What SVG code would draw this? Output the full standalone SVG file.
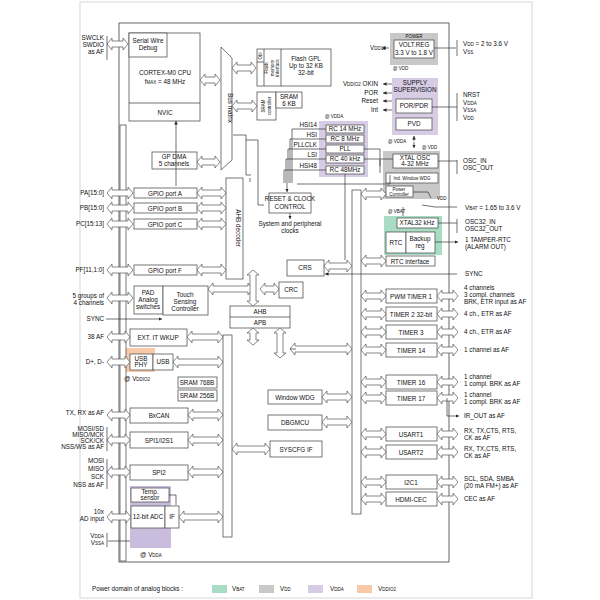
<svg xmlns="http://www.w3.org/2000/svg" width="600" height="600" viewBox="0 0 600 600">
<style>
text{font-family:"Liberation Sans",Arial,sans-serif;font-size:6.3px;fill:#111}
.c{text-anchor:middle}.r{text-anchor:end}
.b{fill:#fff;stroke:#555;stroke-width:0.8}
.a{fill:#fff;stroke:#555;stroke-width:0.7}
.l{fill:none;stroke:#333;stroke-width:0.7}
.s{font-size:4.5px}
</style>
<defs><marker id="m" viewBox="0 0 6 6" refX="6" refY="3" markerWidth="5" markerHeight="5" orient="auto"><path d="M0,0L6,3L0,6Z" fill="#222"/></marker></defs>
<rect x="80" y="2" width="452" height="596" fill="none" stroke="#ccc" stroke-width="0.8"/>
<rect x="119" y="23" width="330" height="539" fill="none" stroke="#555" stroke-width="0.9"/>
<g id="domains">
<rect x="319" y="121" width="49" height="56" fill="#d6cce4"/>
<rect x="390" y="33" width="48" height="32" fill="#c8c8c8"/>
<rect x="392" y="78" width="46" height="57" fill="#d6cce4"/>
<rect x="383" y="151" width="57" height="48" fill="#c8c8c8"/>
<rect x="384" y="216" width="58" height="39" fill="#a8dcc4"/>
<rect x="125" y="348" width="30" height="24" fill="#f7c9a8"/>
<rect x="130" y="486" width="41" height="62" fill="#c9bcdc"/>
</g>
<g id="buses">
<rect x="120" y="125" width="6" height="436" class="b"/>
<polygon points="221,47 232,58 232,160 221,170" class="b"/>
<text transform="translate(228,108) rotate(90)" class="c">Bus matrix</text>
<rect x="226" y="178" width="17" height="101" class="b"/>
<text transform="translate(236,228) rotate(90)" class="c">AHB decoder</text>
<rect x="223" y="335" width="9" height="202" class="b"/>
<rect x="352" y="190" width="9" height="324" class="b"/>
</g>
<g id="cpu"><rect x="129" y="33" width="71" height="88" class="b"/><rect x="129" y="33" width="38" height="24" class="b"/>
<text x="148" y="43" class="c">Serial Wire</text><text x="148" y="50" class="c">Debug</text>
<text x="165" y="75" class="c">CORTEX-M0 CPU</text><text x="165" y="84" class="c">f<tspan class="s">MAX</tspan> = 48 MHz</text>
<line x1="129" y1="103" x2="200" y2="103" class="l"/><text x="165" y="115" class="c">NVIC</text></g>
<g id="flash"><rect x="257" y="49" width="74" height="37" class="b"/><line x1="264" y1="49" x2="264" y2="86" class="l"/><line x1="281" y1="49" x2="281" y2="86" class="l"/><line x1="257" y1="62" x2="264" y2="62" class="l"/>
<text transform="translate(262,56) rotate(-90)" class="c s">Obl</text>
<text transform="translate(268,68) rotate(-90)" class="c s">Flash</text><text transform="translate(274,68) rotate(-90)" class="c s">memory</text><text transform="translate(279,68) rotate(-90)" class="c s">interface</text>
<text x="306" y="61" class="c">Flash GPL</text><text x="306" y="68" class="c">Up to 32 KB</text><text x="306" y="75" class="c">32-bit</text></g>
<g id="sram"><rect x="257" y="92" width="19" height="28" class="b"/><rect x="276" y="92" width="26" height="16" class="b"/>
<text transform="translate(265,106) rotate(-90)" class="c s">SRAM</text><text transform="translate(271,106) rotate(-90)" class="c s">controller</text>
<text x="289" y="99" class="c">SRAM</text><text x="289" y="106" class="c">6 KB</text></g>
<g id="dma"><rect x="152" y="152" width="45" height="17" class="b"/><text x="174" y="159" class="c">GP DMA</text><text x="174" y="166" class="c">5 channels</text></g>
<g id="gpio">
<rect x="134" y="188" width="63" height="10" class="b"/><text x="165" y="195.5" class="c">GPIO port A</text>
<rect x="134" y="203" width="63" height="10" class="b"/><text x="165" y="210.5" class="c">GPIO port B</text>
<rect x="134" y="219" width="63" height="10" class="b"/><text x="165" y="226.5" class="c">GPIO port C</text>
<rect x="134" y="265" width="63" height="10" class="b"/><text x="165" y="272.5" class="c">GPIO port F</text>
<text x="104" y="195" class="r">PA[15:0]</text><text x="104" y="210" class="r">PB[15:0]</text><text x="104" y="226" class="r">PC[15:13]</text><text x="104" y="272" class="r">PF[11,1:0]</text>
</g>
<g id="tsc"><rect x="134" y="286" width="29" height="28" class="b"/><rect x="163" y="286" width="45" height="29" class="b"/>
<text x="148" y="295" class="c">PAD</text><text x="148" y="302" class="c">Analog</text><text x="148" y="309" class="c">switches</text>
<text x="185" y="297" class="c">Touch</text><text x="185" y="304" class="c">Sensing</text><text x="185" y="311" class="c">Controller</text>
<text x="104" y="298" class="r">5 groups of</text><text x="104" y="305" class="r">4 channels</text><text x="104" y="321" class="r">SYNC</text></g>
<g id="ahb"><rect x="230" y="306" width="60" height="22" class="b"/><line x1="230" y1="317" x2="290" y2="317" class="l"/><text x="260" y="314" class="c">AHB</text><text x="260" y="325" class="c">APB</text></g>
<g id="crc"><rect x="279" y="282" width="24" height="16" class="b"/><text x="291" y="292" class="c">CRC</text></g>
<g id="crs"><rect x="287" y="260" width="37" height="16" class="b"/><text x="305" y="270" class="c">CRS</text></g>
<g id="rcc"><rect x="269" y="193" width="42" height="20" class="b"/><text x="290" y="201" class="c">RESET &amp; CLOCK</text><text x="290" y="209" class="c">CONTROL</text>
<text x="290" y="226" class="c">System and peripheral</text><text x="290" y="233" class="c">clocks</text></g>
<g id="clocks"><text x="325" y="118" class="s">@ V<tspan class="s">DDA</tspan></text>
<rect x="326" y="125" width="38" height="8" class="b"/><text x="345" y="131" class="c">RC 14 MHz</text>
<rect x="326" y="135" width="38" height="8" class="b"/><text x="345" y="141" class="c">RC 8 MHz</text>
<rect x="326" y="145" width="38" height="8" class="b"/><text x="345" y="151" class="c">PLL</text>
<rect x="326" y="155" width="38" height="8" class="b"/><text x="345" y="161" class="c">RC 40 kHz</text>
<rect x="326" y="166" width="38" height="8" class="b"/><text x="345" y="172" class="c">RC 48MHz</text>
<text x="317" y="127" class="r">HSI14</text><text x="317" y="137" class="r">HSI</text><text x="317" y="147" class="r">PLLCLK</text><text x="317" y="157" class="r">LSI</text><text x="317" y="168" class="r">HSI48</text></g>
<g id="power"><rect x="394" y="40" width="40" height="18" class="b"/><text x="414" y="38" class="c s">POWER</text><text x="414" y="47" class="c">VOLT.REG</text><text x="414" y="55" class="c">3.3 V to 1.8 V</text>
<text x="370" y="50">V<tspan class="s">DD18</tspan></text><text x="393" y="70" class="s">@ V<tspan class="s">DD</tspan></text>
<text x="463" y="46">V<tspan class="s">DD</tspan> = 2 to 3.6 V</text><text x="463" y="54">V<tspan class="s">SS</tspan></text></g>
<g id="supervision"><text x="415" y="85" class="c">SUPPLY</text><text x="415" y="92" class="c">SUPERVISION</text>
<rect x="396" y="99" width="36" height="14" class="b"/><text x="414" y="108" class="c">POR/PDR</text>
<rect x="396" y="118" width="36" height="12" class="b"/><text x="414" y="126" class="c">PVD</text>
<text x="378" y="86" class="r">V<tspan class="s">DDIO2</tspan> OKIN</text><text x="378" y="95" class="r">POR</text><text x="378" y="103" class="r">Reset</text><text x="378" y="112" class="r">Int</text>
<text x="463" y="97">NRST</text><text x="463" y="105">V<tspan class="s">DDA</tspan></text><text x="463" y="112">V<tspan class="s">SSA</tspan></text><text x="463" y="120">V<tspan class="s">DD</tspan></text>
<text x="388" y="143" class="s">@ V<tspan class="s">DDA</tspan></text><text x="422" y="149" class="s">@ V<tspan class="s">DD</tspan></text></g>
<g id="osc"><rect x="393" y="154" width="45" height="14" class="b"/><text x="415" y="160" class="c">XTAL OSC</text><text x="415" y="166" class="c">4-32 MHz</text>
<rect x="386" y="173" width="52" height="10" class="b"/><text x="412" y="180" class="c s">Ind. Window WDG</text>
<rect x="386" y="186" width="27" height="11" class="b"/><text x="399" y="190.5" class="c s">Power</text><text x="399" y="195.5" class="c s">Controller</text>
<text x="463" y="163">OSC_IN</text><text x="463" y="170">OSC_OUT</text>
<text x="437" y="200" class="s">V<tspan class="s">DD</tspan></text><text x="465" y="210">V<tspan class="s">BAT</tspan> = 1.65 to 3.6 V</text></g>
<g id="rtc"><text x="388" y="213" class="s">@ V<tspan class="s">BAT</tspan></text>
<rect x="397" y="218" width="41" height="10" class="b"/><text x="417" y="225" class="c">XTAL32 kHz</text>
<rect x="386" y="232" width="20" height="21" class="b"/><text x="396" y="245" class="c">RTC</text>
<rect x="406" y="232" width="29" height="21" class="b"/><text x="420" y="241" class="c">Backup</text><text x="420" y="248" class="c">reg</text>
<rect x="386" y="256" width="49" height="10" class="b"/><text x="410" y="263.5" class="c">RTC interface</text>
<text x="465" y="224">OSC32_IN</text><text x="465" y="231">OSC32_OUT</text><text x="465" y="242">1 TAMPER-RTC</text><text x="465" y="249">(ALARM OUT)</text><text x="465" y="276">SYNC</text></g>
<g id="timers">
<rect x="386" y="289" width="51" height="14" class="b"/><text x="411" y="298.5" class="c">PWM TIMER 1</text>
<rect x="386" y="307" width="51" height="14" class="b"/><text x="411" y="316.5" class="c">TIMER 2 32-bit</text>
<rect x="386" y="325" width="51" height="14" class="b"/><text x="411" y="334.5" class="c">TIMER 3</text>
<rect x="386" y="343" width="51" height="14" class="b"/><text x="411" y="352.5" class="c">TIMER 14</text>
<rect x="386" y="375" width="51" height="14" class="b"/><text x="411" y="384.5" class="c">TIMER 16</text>
<rect x="386" y="391" width="51" height="14" class="b"/><text x="411" y="400.5" class="c">TIMER 17</text>
<text x="464" y="290">4 channels</text><text x="464" y="297">3 compl. channels</text><text x="464" y="304">BRK, ETR input as AF</text>
<text x="464" y="316">4 ch., ETR as AF</text><text x="464" y="334">4 ch., ETR as AF</text><text x="464" y="352">1 channel as AF</text>
<text x="464" y="379">1 channel</text><text x="464" y="386">1 compl. BRK as AF</text>
<text x="464" y="397">1 channel</text><text x="464" y="404">1 compl. BRK as AF</text><text x="464" y="418">IR_OUT as AF</text></g>
<g id="comms">
<rect x="386" y="427" width="51" height="14" class="b"/><text x="411" y="436.5" class="c">USART1</text>
<rect x="386" y="445" width="51" height="14" class="b"/><text x="411" y="454.5" class="c">USART2</text>
<rect x="386" y="475" width="51" height="14" class="b"/><text x="411" y="484.5" class="c">I2C1</text>
<rect x="386" y="492" width="51" height="14" class="b"/><text x="411" y="501.5" class="c">HDMI-CEC</text>
<text x="464" y="433">RX, TX,CTS, RTS,</text><text x="464" y="440">CK as AF</text>
<text x="464" y="451">RX, TX,CTS, RTS,</text><text x="464" y="458">CK as AF</text>
<text x="464" y="481">SCL, SDA, SMBA</text><text x="464" y="488">(20 mA FM+) as AF</text><text x="464" y="501">CEC as AF</text></g>
<g id="sys">
<rect x="268" y="390" width="54" height="14" class="b"/><text x="295" y="399.5" class="c">Window WDG</text>
<rect x="268" y="415" width="54" height="15" class="b"/><text x="295" y="425" class="c">DBGMCU</text>
<rect x="270" y="441" width="52" height="16" class="b"/><text x="296" y="451.5" class="c">SYSCFG IF</text></g>
<g id="leftperiph">
<rect x="130" y="329" width="57" height="17" class="b"/><text x="158" y="340" class="c">EXT. IT  WKUP</text><text x="104" y="339" class="r">38 AF</text>
<rect x="130" y="354" width="23" height="16" class="b"/><rect x="153" y="354" width="20" height="16" class="b"/>
<text x="141" y="360.5" class="c">USB</text><text x="141" y="367" class="c">PHY</text><text x="163" y="364" class="c">USB</text>
<text x="104" y="364" class="r">D+, D-</text><text x="124" y="381">@ V<tspan class="s">DDIO2</tspan></text>
<rect x="178" y="377" width="39" height="11" class="b"/><text x="197" y="385" class="c">SRAM 768B</text>
<rect x="178" y="390" width="39" height="11" class="b"/><text x="197" y="398" class="c">SRAM 256B</text>
<rect x="130" y="408" width="58" height="15" class="b"/><text x="159" y="418" class="c">BxCAN</text>
<rect x="130" y="432" width="58" height="16" class="b"/><text x="159" y="442.5" class="c">SPI1/I2S1</text>
<rect x="130" y="465" width="58" height="15" class="b"/><text x="159" y="475" class="c">SPI2</text>
<text x="104" y="415" class="r">TX, RX as AF</text>
<text x="104" y="431" class="r">MOSI/SD</text><text x="104" y="437" class="r">MISO/MCK</text><text x="104" y="443" class="r">SCK/CK</text><text x="104" y="449" class="r">NSS/WS as AF</text>
<text x="104" y="463" class="r">MOSI</text><text x="104" y="471" class="r">MISO</text><text x="104" y="479" class="r">SCK</text><text x="104" y="487" class="r">NSS as AF</text></g>
<g id="adc">
<rect x="131" y="488" width="38" height="14" class="b"/><text x="150" y="494" class="c">Temp.</text><text x="150" y="500" class="c">sensor</text>
<rect x="131" y="506" width="34" height="22" class="b"/><rect x="165" y="506" width="14" height="22" class="b"/>
<text x="148" y="519" class="c">12-bit ADC</text><text x="172" y="519" class="c">IF</text>
<text x="104" y="514" class="r">10x</text><text x="104" y="521" class="r">AD input</text>
<text x="104" y="538" class="r">V<tspan class="s">DDA</tspan></text><text x="104" y="545" class="r">V<tspan class="s">SSA</tspan></text>
<text x="140" y="557">@ V<tspan class="s">DDA</tspan></text></g>
<g id="connectors">
<path class="a" d="M107 44l5-6v3h11v-3l5 6-5 6v-3h-11v3z M200 80l5-6v3h10v-3l5 6-5 6v-3h-10v3z M232 68l5-6v3h14v-3l5 6-5 6v-3h-14v3z M232 106l5-6v3h15v-3l5 6-5 6v-3h-15v3z M197 162l5-6v3h13v-3l5 6-5 6v-3h-13v3z"/>
<path class="a" d="M107 193l5-6v3h16v-3l5 6-5 6v-3h-16v3z M197 193l5-6v3h19v-3l5 6-5 6v-3h-19v3z M107 208l5-6v3h16v-3l5 6-5 6v-3h-16v3z M197 208l5-6v3h19v-3l5 6-5 6v-3h-19v3z M107 224l5-6v3h16v-3l5 6-5 6v-3h-16v3z M197 224l5-6v3h19v-3l5 6-5 6v-3h-19v3z M107 270l5-6v3h16v-3l5 6-5 6v-3h-16v3z M197 270l5-6v3h19v-3l5 6-5 6v-3h-19v3z M107 298l5-6v3h16v-3l5 6-5 6v-3h-16v3z M208 289l5-6v3h35v-3l5 6-5 6v-3h-35v3z M260 289l5-6v3h9v-3l5 6-5 6v-3h-9v3z"/>
<path class="a" d="M107 337l5-6v3h13v-3l5 6-5 6v-3h-13v3z M187 337l5-6v3h26v-3l5 6-5 6v-3h-26v3z M107 362l5-6v3h13v-3l5 6-5 6v-3h-13v3z M173 362l5-6v3h40v-3l5 6-5 6v-3h-40v3z M107 415l5-6v3h13v-3l5 6-5 6v-3h-13v3z M188 415l5-6v3h25v-3l5 6-5 6v-3h-25v3z M107 440l5-6v3h13v-3l5 6-5 6v-3h-13v3z M188 440l5-6v3h25v-3l5 6-5 6v-3h-25v3z M107 472l5-6v3h13v-3l5 6-5 6v-3h-13v3z M188 472l5-6v3h25v-3l5 6-5 6v-3h-25v3z M107 517l5-6v3h14v-3l5 6-5 6v-3h-14v3z M179 517l5-6v3h34v-3l5 6-5 6v-3h-34v3z"/>
<path class="a" d="M322 397l5-6v3h20v-3l5 6-5 6v-3h-20v3z M322 422l5-6v3h20v-3l5 6-5 6v-3h-20v3z M232 449l5-6v3h28v-3l5 6-5 6v-3h-28v3z M324 266l5-6v3h18v-3l5 6-5 6v-3h-18v3z M361 194l5-6v3h15v-3l5 6-5 6v-3h-15v3z M361 261l5-6v3h15v-3l5 6-5 6v-3h-15v3z M290 349l5-6v3h52v-3l5 6-5 6v-3h-52v3z"/>
<path class="a" d="M361 296l5-6v3h15v-3l5 6-5 6v-3h-15v3z M437 296l5-6v3h11v-3l5 6-5 6v-3h-11v3z M361 314l5-6v3h15v-3l5 6-5 6v-3h-15v3z M437 314l5-6v3h11v-3l5 6-5 6v-3h-11v3z M361 332l5-6v3h15v-3l5 6-5 6v-3h-15v3z M437 332l5-6v3h11v-3l5 6-5 6v-3h-11v3z M361 350l5-6v3h15v-3l5 6-5 6v-3h-15v3z M437 350l5-6v3h11v-3l5 6-5 6v-3h-11v3z M361 382l5-6v3h15v-3l5 6-5 6v-3h-15v3z M437 382l5-6v3h11v-3l5 6-5 6v-3h-11v3z M361 398l5-6v3h15v-3l5 6-5 6v-3h-15v3z M437 398l5-6v3h11v-3l5 6-5 6v-3h-11v3z M361 434l5-6v3h15v-3l5 6-5 6v-3h-15v3z M437 434l5-6v3h11v-3l5 6-5 6v-3h-11v3z M361 452l5-6v3h15v-3l5 6-5 6v-3h-15v3z M437 452l5-6v3h11v-3l5 6-5 6v-3h-11v3z M361 482l5-6v3h15v-3l5 6-5 6v-3h-15v3z M437 482l5-6v3h11v-3l5 6-5 6v-3h-11v3z M361 499l5-6v3h15v-3l5 6-5 6v-3h-15v3z M437 499l5-6v3h11v-3l5 6-5 6v-3h-11v3z"/>
<path class="a" d="M253 270l6 5h-3v26h3l-6 5-6-5h3v-26h-3z M253 328l6 5h-3v7h3l-6 5-6-5h3v-7h-3z M280 328l6 5h-3v20h3l-6 5-6-5h3v-20h-3z"/>
<path class="l" d="M233 135H246V175H251 M246 140H258V205H264 M250 182V178 M296 349H290"/>
<line x1="176" y1="186" x2="176" y2="121" class="l" marker-end="url(#m)"/>
<line x1="389" y1="48" x2="382" y2="48" class="l" marker-end="url(#m)"/>
<line x1="434" y1="48" x2="456" y2="48" class="l"/>
<path class="l" d="M457 40V56M457 93V121M457 160V174M457 219V233"/>
<line x1="392" y1="84" x2="383" y2="84" class="l" marker-end="url(#m)"/><line x1="392" y1="93" x2="383" y2="93" class="l" marker-end="url(#m)"/><line x1="392" y1="101" x2="383" y2="101" class="l" marker-end="url(#m)"/><line x1="392" y1="110" x2="383" y2="110" class="l" marker-end="url(#m)"/>
<line x1="432" y1="107" x2="457" y2="107" class="l"/><line x1="438" y1="161" x2="457" y2="161" class="l"/><line x1="438" y1="223" x2="457" y2="223" class="l"/>
<line x1="414" y1="141" x2="414" y2="136" class="l" marker-end="url(#m)"/><line x1="414" y1="142" x2="414" y2="148" class="l" marker-end="url(#m)"/>
<path class="l" d="M326 129H292V183 M326 139H290V183 M326 149H288V183 M326 159H286V183 M326 170H284V183 M364 149H380V166 M364 159H393 M380 160V173 M345 174V260 M297 184H390V175"/>
<line x1="287" y1="183" x2="287" y2="192" class="l" marker-end="url(#m)"/>
<path class="l" d="M413 192H428L431 198 M422 205L435 207H457 M403 207V216" />
<line x1="435" y1="242" x2="458" y2="242" class="l" marker-end="url(#m)"/>
<line x1="457" y1="274" x2="325" y2="274" class="l" marker-end="url(#m)"/>
<line x1="106" y1="319" x2="162" y2="319" class="l" marker-end="url(#m)"/>
<line x1="290" y1="213" x2="290" y2="219" class="l" marker-end="url(#m)"/>
<line x1="447" y1="398" x2="447" y2="416" class="l"/><line x1="447" y1="416" x2="459" y2="416" class="l" marker-end="url(#m)"/>
<line x1="130" y1="541" x2="108" y2="541" class="l"/><path class="l" d="M107 533V547M107 427V451M107 459V489M107 36V60"/>
<line x1="169" y1="495" x2="176" y2="495" class="l"/><line x1="176" y1="505" x2="176" y2="495" class="l"/>
</g>
<g id="legend">
<text x="92" y="591">Power domain of analog blocks :</text>
<rect x="212" y="585" width="15" height="8" fill="#a8dcc4"/><text x="232" y="591">V<tspan class="s">BAT</tspan></text>
<rect x="259" y="585" width="15" height="8" fill="#c8c8c8"/><text x="280" y="591">V<tspan class="s">DD</tspan></text>
<rect x="308" y="585" width="15" height="8" fill="#d6cce4"/><text x="330" y="591">V<tspan class="s">DDA</tspan></text>
<rect x="357" y="585" width="15" height="8" fill="#f7c9a8"/><text x="378" y="591">V<tspan class="s">DDIO2</tspan></text>
</g>
<g id="swd"><text x="104" y="40" class="r">SWCLK</text><text x="104" y="47" class="r">SWDIO</text><text x="104" y="54" class="r">as AF</text></g>
</svg>
